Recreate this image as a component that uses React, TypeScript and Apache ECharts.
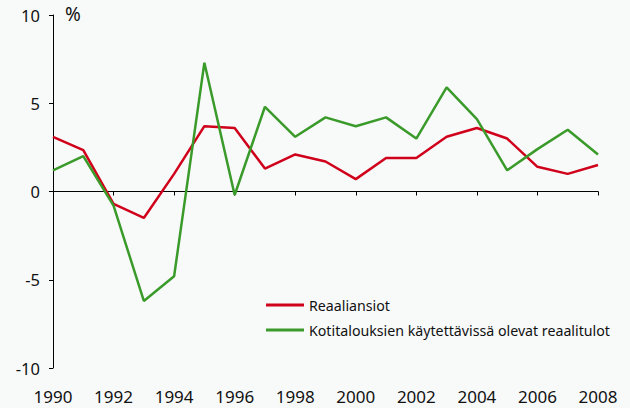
import React, { useEffect, useRef } from "react";
import * as echarts from "echarts";

const years = [1990,1991,1992,1993,1994,1995,1996,1997,1998,1999,2000,2001,2002,2003,2004,2005,2006,2007,2008];
const reaaliansiot = [3.1,2.35,-0.7,-1.5,1.0,3.7,3.6,1.3,2.1,1.7,0.7,1.9,1.9,3.1,3.6,3.0,1.4,1.0,1.5];
const reaalitulot = [1.2,2.0,-0.8,-6.2,-4.8,7.3,-0.2,4.8,3.1,4.2,3.7,4.2,3.0,5.9,4.1,1.2,2.4,3.5,2.1];
const seriesNames = ["Reaaliansiot", "Kotitalouksien käytettävissä olevat reaalitulot"];
const unitLabel = "%";
const yTicks = { min: -10, max: 10, interval: 5 };
const xTicks = { min: 1990, max: 2008, interval: 2 };

const FONT = "Noto Sans";

export default function App() {
  const ref = useRef<HTMLDivElement>(null);
  useEffect(() => {
    if (!ref.current) return;
    const chart = echarts.init(ref.current, undefined, { renderer: "svg" });
    const toPairs = (vals: number[]) => years.map((y, i) => [y, vals[i]]);
    chart.setOption({
      animation: false,
      backgroundColor: "#f8fafa",
      textStyle: { fontFamily: FONT },
      grid: { left: 53, right: 32, top: 15, bottom: 40, containLabel: false },
      graphic: [
        {
          type: "text",
          left: 65,
          top: 4,
          style: { text: unitLabel, fontFamily: FONT, fontSize: 19, fill: "#111" },
        },
      ],
      legend: {
        orient: "vertical",
        left: 261,
        top: 292,
        icon: "rect",
        itemWidth: 38,
        itemHeight: 3,
        itemGap: 9,
        textStyle: { fontFamily: FONT, fontSize: 14.2, color: "#111", lineHeight: 16 },
        data: seriesNames,
      },
      xAxis: [
        {
          type: "value",
          min: xTicks.min,
          max: xTicks.max,
          interval: xTicks.interval,
          axisLine: { onZero: true, lineStyle: { color: "#000", width: 1 } },
          axisTick: { show: true, inside: false, length: 4, lineStyle: { color: "#000" } },
          axisLabel: { show: false },
          splitLine: { show: false },
        },
        {
          type: "value",
          position: "bottom",
          min: xTicks.min,
          max: xTicks.max,
          interval: xTicks.interval,
          axisLine: { show: false, onZero: false },
          axisTick: { show: false },
          axisLabel: {
            show: true,
            margin: 20,
            fontFamily: FONT,
            fontSize: 17,
            color: "#111",
            formatter: (v: number) => String(v),
          },
          splitLine: { show: false },
        },
      ],
      yAxis: {
        type: "value",
        min: yTicks.min,
        max: yTicks.max,
        interval: yTicks.interval,
        axisLine: { show: true, onZero: false, lineStyle: { color: "#000", width: 1 } },
        axisTick: { show: true, length: 4, lineStyle: { color: "#000" } },
        axisLabel: { margin: 13, fontFamily: FONT, fontSize: 16.5, color: "#111" },
        splitLine: { show: false },
      },
      series: [
        {
          name: seriesNames[0],
          type: "line",
          data: toPairs(reaaliansiot),
          xAxisIndex: 0,
          showSymbol: false,
          symbol: "none",
          lineStyle: { color: "#d0021b", width: 2.5 },
          itemStyle: { color: "#d0021b" },
        },
        {
          name: seriesNames[1],
          type: "line",
          data: toPairs(reaalitulot),
          xAxisIndex: 0,
          showSymbol: false,
          symbol: "none",
          lineStyle: { color: "#3a9a2a", width: 2.5 },
          itemStyle: { color: "#3a9a2a" },
        },
      ],
    });
    return () => chart.dispose();
  }, []);
  return <div ref={ref} style={{ width: 630, height: 408, position: "absolute", left: 0, top: 0 }} />;
}
